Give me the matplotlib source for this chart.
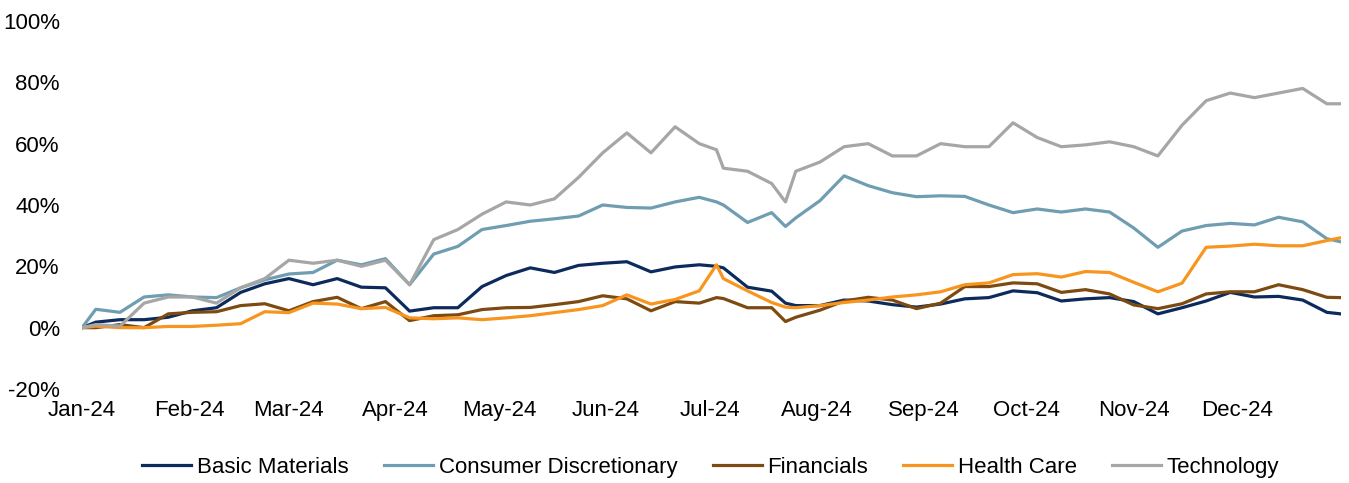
import numpy as np
import pandas as pd
import matplotlib
matplotlib.use("Agg")
import matplotlib.pyplot as plt
import matplotlib.dates as mdates
from matplotlib.ticker import FuncFormatter

plt.rcParams['font.family'] = ['Liberation Sans', 'DejaVu Sans']

# Dates (weekly, plus a few extra points at visible turns)
dates = pd.to_datetime([
    "2024-01-01", "2024-01-05", "2024-01-12", "2024-01-19", "2024-01-26",
    "2024-02-02", "2024-02-09", "2024-02-16", "2024-02-23",
    "2024-03-01", "2024-03-08", "2024-03-15", "2024-03-22", "2024-03-29",
    "2024-04-05", "2024-04-12", "2024-04-19", "2024-04-26",
    "2024-05-03", "2024-05-10", "2024-05-17", "2024-05-24", "2024-05-31",
    "2024-06-07", "2024-06-14", "2024-06-21", "2024-06-28",
    "2024-07-03", "2024-07-05", "2024-07-12", "2024-07-19", "2024-07-23", "2024-07-26",
    "2024-08-02", "2024-08-09", "2024-08-16", "2024-08-23", "2024-08-30",
    "2024-09-06", "2024-09-13", "2024-09-20", "2024-09-27",
    "2024-10-04", "2024-10-11", "2024-10-18", "2024-10-25",
    "2024-11-01", "2024-11-08", "2024-11-15", "2024-11-22", "2024-11-29",
    "2024-12-06", "2024-12-13", "2024-12-20", "2024-12-27", "2024-12-31",
])

# Cumulative return, %
basic_materials = [0, 1.8, 2.6, 2.6, 3.4, 5.5, 6.5, 11.5, 14.3,
                   16, 14, 16, 13.2, 13, 5.4, 6.5, 6.5, 13.4,
                   17, 19.5, 18, 20.3, 21, 21.5, 18.2, 19.8, 20.5,
                   20, 19.5, 13.2, 11.9, 8, 7.2, 7.2, 9, 8.7, 7.5, 6.7,
                   7.7, 9.4, 9.8, 12, 11.4, 8.7, 9.4, 9.8,
                   8.5, 4.5, 6.5, 8.7, 11.5, 10, 10.2, 9, 5, 4.5]
consumer_disc = [0, 6, 5, 10, 10.7, 10, 9.8, 13, 15.6,
                 17.5, 18, 22, 20.5, 22.5, 14, 24, 26.5, 32,
                 33.3, 34.7, 35.5, 36.4, 40, 39.2, 39, 41, 42.5,
                 41, 40, 34.3, 37.5, 33, 35.8, 41.4, 49.5, 46.3, 44, 42.7,
                 43, 42.8, 40, 37.5, 38.7, 37.7, 38.7, 37.7,
                 32.5, 26.2, 31.5, 33.3, 34, 33.5, 36, 34.5, 29, 28]
financials = [0, 0, 1, 0, 4.5, 5, 5.2, 7.2, 7.8,
              5.5, 8.5, 9.9, 6.2, 8.5, 2.3, 3.9, 4.2, 5.9,
              6.5, 6.6, 7.5, 8.5, 10.4, 9.4, 5.5, 8.5, 8,
              9.8, 9.5, 6.5, 6.5, 2, 3.4, 5.7, 8.7, 9.9, 9, 6.2,
              8, 13.4, 13.4, 14.6, 14.3, 11.5, 12.4, 11,
              7.4, 6.2, 7.8, 11, 11.7, 11.7, 14, 12.4, 9.9, 9.8]
health_care = [0, 0.5, 0, 0, 0.4, 0.4, 0.8, 1.3, 5.2,
               4.9, 8, 7.7, 6.2, 6.6, 3.2, 2.9, 3.2, 2.6,
               3.2, 3.9, 4.9, 5.9, 7.2, 10.7, 7.7, 9.2, 12,
               20.5, 16, 12, 8.2, 6.7, 6.5, 7.2, 8.2, 9, 10, 10.7,
               11.7, 14, 14.6, 17.3, 17.6, 16.5, 18.3, 18,
               14.8, 11.7, 14.5, 26.2, 26.6, 27.2, 26.7, 26.7, 28.4, 29.3]
technology = [0, 1, 0.5, 8, 10, 10, 8, 13, 16,
              22, 21, 22, 20, 22, 14, 28.7, 32, 37,
              41, 40, 42, 49, 57, 63.5, 57, 65.5, 60,
              58, 52, 51, 47, 41, 51, 54, 59, 60, 56, 56,
              60, 59, 59, 66.8, 62, 59, 59.6, 60.6,
              59, 56, 66, 74, 76.5, 75, 76.5, 78, 73, 73]

series = [
    ("Basic Materials", basic_materials, "#0c2b5c"),
    ("Consumer Discretionary", consumer_disc, "#6f9db1"),
    ("Financials", financials, "#7d4a12"),
    ("Health Care", health_care, "#f7951f"),
    ("Technology", technology, "#a6a6a6"),
]

fig = plt.figure(figsize=(13.49, 4.83), dpi=100)
ax = fig.add_axes([0.0608, 0.1946, 0.933, 0.762])

for name, vals, col in series:
    ax.plot(dates, vals, color=col, lw=2.3, label=name)

ax.set_ylim(-20, 100)
ax.set_yticks(np.arange(-20, 101, 20))
ax.yaxis.set_major_formatter(FuncFormatter(lambda v, p: f"{v:.0f}%"))
ax.set_xlim(pd.Timestamp("2024-01-01"), pd.Timestamp("2024-12-31"))
ax.xaxis.set_major_locator(mdates.MonthLocator())
ax.xaxis.set_major_formatter(mdates.DateFormatter("%b-%y"))

for s in ax.spines.values():
    s.set_visible(False)
ax.tick_params(axis='both', length=0, labelsize=16, colors='black')
ax.tick_params(axis='y', pad=16)
ax.tick_params(axis='x', pad=8)

fig.legend(loc='center', bbox_to_anchor=(0.527, 0.033), ncol=5, frameon=False,
           fontsize=16, handlelength=2.2, handletextpad=0.25, columnspacing=1.6)

fig.savefig("out.png", dpi=100)
